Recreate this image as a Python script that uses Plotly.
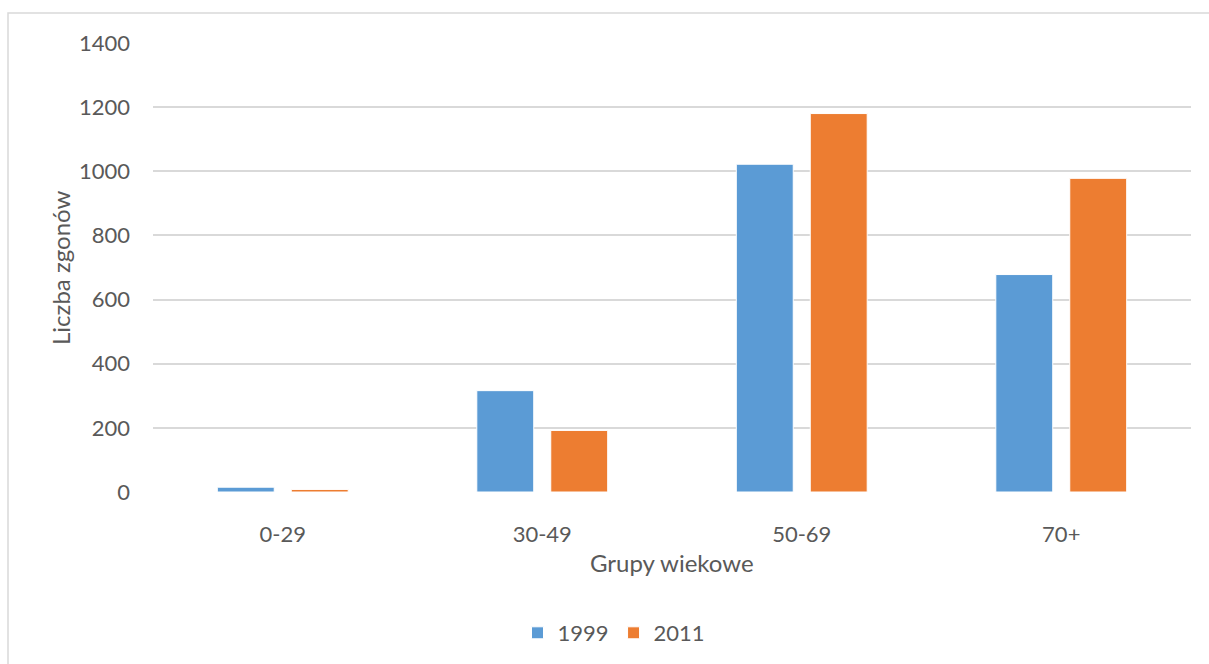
import plotly.graph_objects as go

# Deaths by age group, two census years
age_groups = ["0-29", "30-49", "50-69", "70+"]
deaths_1999 = [15, 316, 1022, 678]
deaths_2011 = [8, 192, 1180, 978]
y_ticks = [0, 200, 400, 600, 800, 1000, 1200, 1400]

TEXT = "#595959"
GRID = "#D9D9D9"
FONT = "Lato, Carlito, Calibri, sans-serif"

W, H = 1209, 664
L, R, T, B = 153, 18, 43, 172
pw, ph = W - L - R, H - T - B


def px_x(x):
    return (x - L) / pw


def px_y(y):
    return (H - B - y) / ph


fig = go.Figure()
fig.add_trace(go.Bar(
    name="1999", x=age_groups, y=deaths_1999,
    marker=dict(color="#5B9BD5", line=dict(color="#FFFFFF", width=1)),
))
fig.add_trace(go.Bar(
    name="2011", x=age_groups, y=deaths_2011,
    marker=dict(color="#ED7D31", line=dict(color="#FFFFFF", width=1)),
))

fig.update_layout(
    width=W, height=H,
    margin=dict(l=L, r=R, t=T, b=B, autoexpand=False),
    paper_bgcolor="white", plot_bgcolor="white",
    barmode="group", bargap=0.43, bargroupgap=0.23,
    font=dict(family=FONT, color=TEXT, size=22),
    showlegend=True,
    legend=dict(
        orientation="h", xref="container", x=614 / W, xanchor="center",
        yref="container", y=1 - 633 / H, yanchor="middle",
        font=dict(size=22, color=TEXT), itemwidth=30,
        bgcolor="rgba(0,0,0,0)",
    ),
    xaxis=dict(
        showgrid=False, showline=False, zeroline=False, ticks="",
        ticklabelstandoff=27, tickfont=dict(size=22, color=TEXT),
    ),
    yaxis=dict(
        range=[0, 1400], tickvals=y_ticks, showgrid=True, gridcolor=GRID,
        gridwidth=1.5, zeroline=False, showline=False, ticks="",
        ticklabelstandoff=22, tickfont=dict(size=22, color=TEXT),
    ),
    shapes=[dict(
        type="rect", xref="paper", yref="paper",
        x0=px_x(8), x1=px_x(1230), y0=px_y(690), y1=px_y(13),
        line=dict(color=GRID, width=1.5), fillcolor="rgba(0,0,0,0)", layer="below",
    )],
    annotations=[
        dict(text="Grupy wiekowe", xref="paper", yref="paper",
             x=px_x(672), y=px_y(562), xanchor="center", yanchor="middle",
             showarrow=False, font=dict(size=24, color=TEXT)),
        dict(text="Liczba zgonów", xref="paper", yref="paper",
             x=px_x(60), y=px_y(268), xanchor="center", yanchor="middle",
             textangle=-90, showarrow=False, font=dict(size=24, color=TEXT)),
    ],
)

fig.write_html("out.html")
